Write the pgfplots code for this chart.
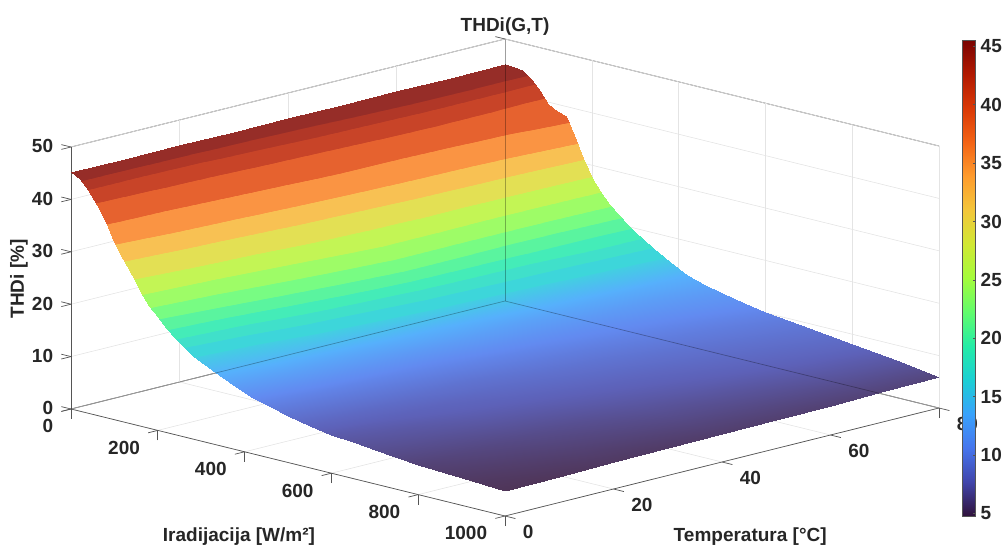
\documentclass[border=0pt]{standalone}
\usepackage{fontspec}
\setmainfont{Liberation Sans}
\usepackage{pgfplots}
\pgfplotsset{compat=1.18}
\definecolor{txt}{RGB}{38,38,38}
\definecolor{axl}{RGB}{85,85,85}
\definecolor{grd}{RGB}{228,228,228}
\pgfplotsset{
  colormap={turbosurf}{
    rgb255(4.8pt)=(79,53,88) rgb255(7.7pt)=(93,97,184) rgb255(10.6pt)=(98,138,240) rgb255(13.5pt)=(86,176,252) rgb255(15.7pt)=(67,206,226)
    rgb255(15.8pt)=(61,214,218) rgb255(17pt)=(61,214,218)
    rgb255(17.1pt)=(64,224,202) rgb255(18.3pt)=(64,224,202)
    rgb255(18.4pt)=(68,236,184) rgb255(19.7pt)=(68,236,184)
    rgb255(19.8pt)=(90,244,159) rgb255(21.3pt)=(90,244,159)
    rgb255(21.4pt)=(120,252,131) rgb255(23.1pt)=(120,252,131)
    rgb255(23.2pt)=(158,252,103) rgb255(25.2pt)=(158,252,103)
    rgb255(25.3pt)=(195,245,85) rgb255(27.7pt)=(195,245,85)
    rgb255(27.8pt)=(227,224,84) rgb255(30.7pt)=(227,224,84)
    rgb255(30.8pt)=(248,193,83) rgb255(33.5pt)=(248,193,83)
    rgb255(33.6pt)=(250,148,67) rgb255(37pt)=(250,148,67)
    rgb255(37.1pt)=(230,98,47) rgb255(40.5pt)=(230,98,47)
    rgb255(40.6pt)=(200,68,40) rgb255(42.7pt)=(200,68,40)
    rgb255(42.8pt)=(177,55,39) rgb255(44pt)=(177,55,39)
    rgb255(44.1pt)=(150,45,40) rgb255(45.5pt)=(150,45,40)},
  colormap={turbo}{rgb255=(48,18,59) rgb255=(65,69,171) rgb255=(70,117,237) rgb255=(57,162,252) rgb255=(27,207,212) rgb255=(36,236,166) rgb255=(97,252,108) rgb255=(164,252,59) rgb255=(209,232,52) rgb255=(243,198,58) rgb255=(254,155,45) rgb255=(243,99,21) rgb255=(217,56,6) rgb255=(177,25,1) rgb255=(122,4,2)},
}
\newcommand{\lab}{\bfseries\fontsize{19}{22}\selectfont\color{txt}}
\begin{document}
\begin{tikzpicture}
\useasboundingbox (0pt,0pt) rectangle (1005pt,546pt);
\begin{axis}[
  anchor=origin, at={(71pt,137pt)},
  x={(0.434pt,-0.107pt)}, y={(5.425pt,1.35pt)}, z={(0pt,5.24pt)},
  xmin=0, xmax=1000, ymin=0, ymax=80, zmin=0, zmax=50,
  clip=false,
  xtick={0,200,...,1000}, ytick={0,20,...,80}, ztick={0,10,...,50},
  xtick pos=left, ytick pos=right, ztick pos=left,
  yticklabel pos=left,
  ytick style={draw=none},
  grid=major, grid style={grd, line width=0.6pt},
  axis line style={axl, line width=0.7pt},
  tick style={axl, line width=0.7pt},
  tick align=outside, major tick length=10pt,
  /pgf/number format/assume math mode=true,
  /pgf/number format/1000 sep={},
  ticklabel style={font=\lab, inner sep=0pt},
  x tick label style={anchor=east, xshift=-8pt, yshift=-15pt},
  y tick label style={anchor=west, xshift=8pt, yshift=-14pt},
  z tick label style={anchor=east, xshift=-8pt, yshift=3pt},
  xlabel={Iradijacija [W/m²]}, ylabel={Temperatura [°C]}, zlabel={THDi [\%]}, title={THDi(G,T)},
  every axis x label/.style={at={(axis cs:387,0,-16.5)}, anchor=center, font=\lab},
  every axis y label/.style={at={(axis cs:1000,45.2,-15.5)}, anchor=center, font=\lab},
  every axis z label/.style={at={(axis cs:-120,0,22.4)}, anchor=center, rotate=90, font=\lab},
  every axis title/.style={at={(axis cs:0,80,52.3)}, anchor=center, font=\lab},
  colormap name=turbosurf,
  point meta min=4.8, point meta max=45.5,
]
\addplot3[surf, shader=interp, mesh/rows=9, mesh/cols=28, mesh/ordering=y varies] coordinates {
(0,0,45.2)(0,10,45.2)(0,20,45.2)(0,30,45.2)(0,40,45.2)(0,50,45.2)(0,60,45.2)(0,70,45.2)(0,80,45.2)
(20,0,44.3)(20,10,44.4)(20,20,44.5)(20,30,44.6)(20,40,44.7)(20,50,44.8)(20,60,44.9)(20,70,45.0)(20,80,45.1)
(40,0,42.7)(40,10,43.0)(40,20,43.3)(40,30,43.5)(40,40,43.8)(40,50,44.1)(40,60,44.4)(40,70,44.6)(40,80,44.9)
(60,0,40.2)(60,10,40.9)(60,20,41.6)(60,30,42.2)(60,40,42.7)(60,50,43.0)(60,60,43.3)(60,70,43.5)(60,80,43.5)
(80,0,37.4)(80,10,38.5)(80,20,39.6)(80,30,40.3)(80,40,40.9)(80,50,41.3)(80,60,41.6)(80,70,41.8)(80,80,41.7)
(100,0,33.9)(100,10,35.4)(100,20,36.8)(100,30,38.2)(100,40,39.1)(100,50,39.7)(100,60,39.9)(100,70,39.8)(100,80,39.6)
(120,0,31.1)(120,10,32.6)(120,20,34.1)(120,30,35.5)(120,40,36.5)(120,50,37.2)(120,60,37.7)(120,70,38.2)(120,80,38.8)
(140,0,28.4)(140,10,29.9)(140,20,31.3)(140,30,32.7)(140,40,33.6)(140,50,34.3)(140,60,34.9)(140,70,36.1)(140,80,38.1)
(160,0,25.8)(160,10,27.3)(160,20,28.7)(160,30,30.1)(160,40,31.1)(160,50,31.8)(160,60,32.3)(160,70,33.3)(160,80,35.0)
(180,0,23.4)(180,10,24.9)(180,20,26.3)(180,30,27.7)(180,40,28.8)(180,50,29.2)(180,60,29.5)(180,70,30.1)(180,80,31.0)
(200,0,21.6)(200,10,23.0)(200,20,24.3)(200,30,25.7)(200,40,26.6)(200,50,26.6)(200,60,26.9)(200,70,27.0)(200,80,27.5)
(220,0,20.0)(220,10,21.2)(220,20,22.5)(220,30,23.9)(220,40,25.0)(220,50,24.9)(220,60,24.9)(220,70,25.0)(220,80,25.4)
(240,0,18.5)(240,10,19.6)(240,20,20.8)(240,30,22.2)(240,40,23.4)(240,50,23.2)(240,60,23.1)(240,70,23.2)(240,80,23.5)
(260,0,17.1)(260,10,18.1)(260,20,19.2)(260,30,20.5)(260,40,21.7)(260,50,21.5)(260,60,21.5)(260,70,21.6)(260,80,21.9)
(280,0,15.9)(280,10,16.8)(280,20,17.8)(280,30,18.9)(280,40,19.8)(280,50,19.8)(280,60,19.9)(280,70,20.1)(280,80,20.4)
(300,0,15.0)(300,10,15.7)(300,20,16.6)(300,30,17.4)(300,40,18.1)(300,50,18.3)(300,60,18.5)(300,70,18.9)(300,80,19.2)
(340,0,13.4)(340,10,14.0)(340,20,14.6)(340,30,15.1)(340,40,15.6)(340,50,16.0)(340,60,16.3)(340,70,16.7)(340,80,17.0)
(380,0,11.9)(380,10,12.3)(380,20,12.7)(380,30,13.1)(380,40,13.6)(380,50,14.0)(380,60,14.4)(380,70,14.8)(380,80,15.2)
(420,0,10.6)(420,10,11.0)(420,20,11.3)(420,30,11.7)(420,40,12.1)(420,50,12.4)(420,60,12.8)(420,70,13.1)(420,80,13.5)
(460,0,9.7)(460,10,10.0)(460,20,10.3)(460,30,10.6)(460,40,11.0)(460,50,11.3)(460,60,11.7)(460,70,12.1)(460,80,12.5)
(500,0,8.9)(500,10,9.2)(500,20,9.5)(500,30,9.8)(500,40,10.2)(500,50,10.6)(500,60,10.9)(500,70,11.3)(500,80,11.7)
(550,0,8.0)(550,10,8.3)(550,20,8.7)(550,30,9.0)(550,40,9.4)(550,50,9.7)(550,60,10.1)(550,70,10.5)(550,80,10.9)
(600,0,7.3)(600,10,7.7)(600,20,8.0)(600,30,8.4)(600,40,8.8)(600,50,9.1)(600,60,9.5)(600,70,9.8)(600,80,10.2)
(650,0,6.9)(650,10,7.2)(650,20,7.6)(650,30,7.9)(650,40,8.3)(650,50,8.6)(650,60,8.9)(650,70,9.3)(650,80,9.6)
(700,0,6.5)(700,10,6.8)(700,20,7.2)(700,30,7.5)(700,40,7.8)(700,50,8.1)(700,60,8.5)(700,70,8.8)(700,80,9.1)
(800,0,5.7)(800,10,6.0)(800,20,6.3)(800,30,6.6)(800,40,7.0)(800,50,7.3)(800,60,7.6)(800,70,7.9)(800,80,8.2)
(900,0,5.2)(900,10,5.4)(900,20,5.7)(900,30,5.9)(900,40,6.2)(900,50,6.4)(900,60,6.6)(900,70,6.9)(900,80,7.1)
(1000,0,4.8)(1000,10,4.9)(1000,20,5.1)(1000,30,5.2)(1000,40,5.4)(1000,50,5.5)(1000,60,5.6)(1000,70,5.8)(1000,80,5.9)
};
\addplot3[black, opacity=0.3, line width=0.7pt, no marks] coordinates {(0,0,0)(0,80,0)(1000,80,0)};
\addplot3[black, opacity=0.3, line width=0.7pt, no marks] coordinates {(0,80,0)(0,80,50)};
\addplot3[axl, line width=0.7pt, no marks] coordinates {(1000,0,0)(1024,0,0)};
\addplot3[axl, line width=0.7pt, no marks] coordinates {(1000,20,0)(1024,20,0)};
\addplot3[axl, line width=0.7pt, no marks] coordinates {(1000,40,0)(1024,40,0)};
\addplot3[axl, line width=0.7pt, no marks] coordinates {(1000,60,0)(1024,60,0)};
\addplot3[axl, line width=0.7pt, no marks] coordinates {(1000,80,0)(1024,80,0)};
\end{axis}
\begin{axis}[
  anchor=south west, at={(962.7pt,30pt)},
  width=13pt, height=476pt, scale only axis,
  xmin=0, xmax=1, ymin=4.79, ymax=45.54,
  xtick=\empty, ytick={5,10,...,45},
  yticklabel pos=right, ytick pos=right,
  tick align=inside, major tick length=3pt,
  axis line style={axl, line width=0.5pt},
  tick style={axl, line width=0.5pt},
  /pgf/number format/assume math mode=true,
  ticklabel style={font=\lab, xshift=1.5pt},
  colormap name=turbo,
  point meta min=4.79, point meta max=45.54,
  axis on top,
]
\addplot[surf, shader=interp, mesh/cols=2, point meta=y] coordinates {
(0,4.79)(1,4.79)
(0,45.54)(1,45.54)
};
\end{axis}
\end{tikzpicture}
\end{document}
